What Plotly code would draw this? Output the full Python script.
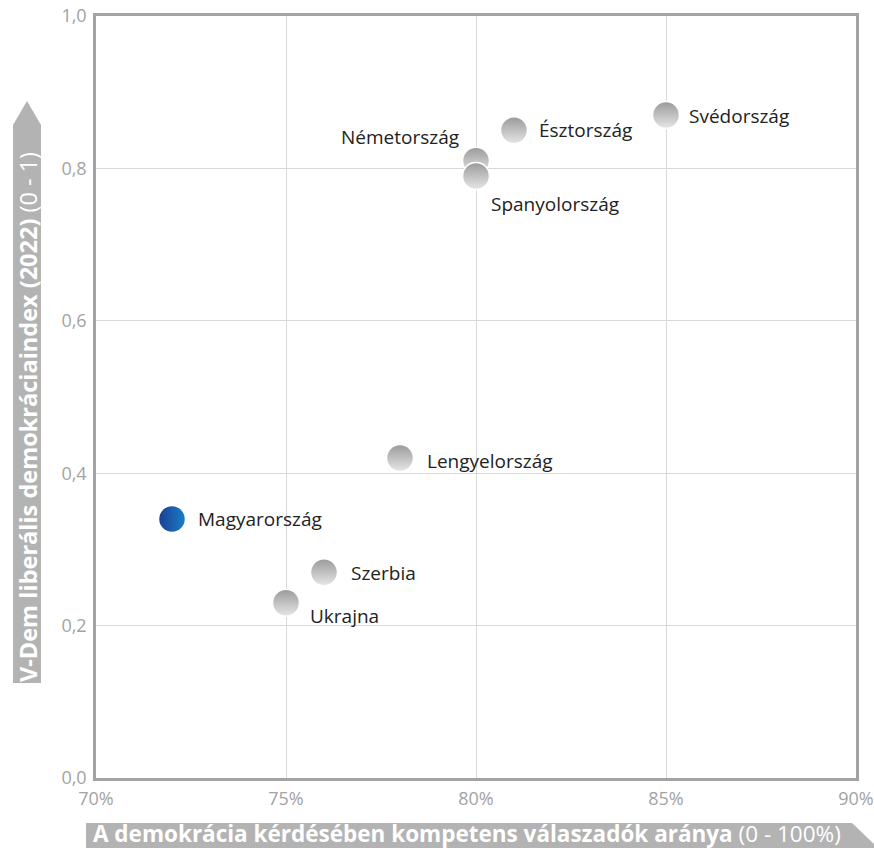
import plotly.graph_objects as go

countries = ["Magyarország", "Ukrajna", "Szerbia", "Lengyelország",
             "Németország", "Spanyolország", "Észtország", "Svédország"]
competent_pct = [72, 75, 76, 78, 80, 80, 81, 85]
vdem_index = [0.34, 0.23, 0.27, 0.42, 0.81, 0.79, 0.85, 0.87]
highlight = ["Magyarország"]

x_ticks = [70, 75, 80, 85, 90]
x_tick_labels = ["70%", "75%", "80%", "85%", "90%"]
y_ticks = [0.0, 0.2, 0.4, 0.6, 0.8, 1.0]
y_tick_labels = ["0,0", "0,2", "0,4", "0,6", "0,8", "1,0"]

x_title_bold = "A demokrácia kérdésében kompetens válaszadók aránya"
x_title_light = "(0 - 100%)"
y_title_bold = "V-Dem liberális demokráciaindex (2022)"
y_title_light = "(0 - 1)"

# label placement (pixel offsets from marker centre; style only)
label_style = {
    "Magyarország": ("left", 24, 0),
    "Ukrajna": ("left", 22, -13),
    "Szerbia": ("left", 25, -1),
    "Lengyelország": ("left", 25, -3),
    "Németország": ("right", -15, 24),
    "Spanyolország": ("left", 13, -28),
    "Észtország": ("left", 23, 0),
    "Svédország": ("left", 21, -1),
}

W, H = 874, 848
ML, MR, MT, MB = 96, 18, 16, 70
PW, PH = W - ML - MR, H - MT - MB

def px(x):  # page pixel -> paper
    return (x - ML) / PW

def py(y):
    return (H - MB - y) / PH

fig = go.Figure()

gray_idx = [i for i, c in enumerate(countries) if c not in highlight]
blue_idx = [i for i, c in enumerate(countries) if c in highlight]

fig.add_trace(go.Scatter(
    x=[competent_pct[i] for i in gray_idx],
    y=[vdem_index[i] for i in gray_idx],
    mode="markers",
    marker=dict(size=27, color="#9a9a9a",
                gradient=dict(type="vertical", color="#e6e6e6"),
                line=dict(color="white", width=1.5)),
    hoverinfo="skip", showlegend=False,
))
fig.add_trace(go.Scatter(
    x=[competent_pct[i] for i in blue_idx],
    y=[vdem_index[i] for i in blue_idx],
    mode="markers",
    marker=dict(size=27, color="#1a3f92",
                gradient=dict(type="horizontal", color="#1b7fc7"),
                line=dict(color="white", width=1.5)),
    hoverinfo="skip", showlegend=False,
))

for c, xv, yv in zip(countries, competent_pct, vdem_index):
    anchor, dx, dy = label_style[c]
    fig.add_annotation(x=xv, y=yv, xref="x", yref="y", text=c,
                       showarrow=False, xanchor=anchor, yanchor="middle",
                       xshift=dx, yshift=dy,
                       font=dict(family="Open Sans", size=19, color="#222222"))

# axis title arrows
arrow_col = "#b3b3b3"
x0, x1, xt = px(86), px(852), px(876)
yt, yb, ym = py(823), py(870), py(846)
fig.add_shape(type="path", xref="paper", yref="paper",
              path=f"M {x0} {yt} L {x1} {yt} L {xt} {ym} L {x1} {yb} L {x0} {yb} Z",
              fillcolor=arrow_col, line=dict(width=0), layer="below")
lx, rx, mx = px(13), px(41), px(27)
by, ty, tipy = py(683), py(125), py(101)
fig.add_shape(type="path", xref="paper", yref="paper",
              path=f"M {lx} {by} L {lx} {ty} L {mx} {tipy} L {rx} {ty} L {rx} {by} Z",
              fillcolor=arrow_col, line=dict(width=0), layer="below")

title_font = "Open Sans"
fig.add_annotation(xref="paper", yref="paper", x=px(91), y=py(833),
                   xanchor="left", yanchor="middle", showarrow=False,
                   text=f"<b>{x_title_bold}</b> {x_title_light}",
                   font=dict(family=title_font, size=22.5, color="white"))
fig.add_annotation(xref="paper", yref="paper", x=px(28), y=py(684),
                   xanchor="center", yanchor="bottom", textangle=-90, showarrow=False,
                   text=f"<b>{y_title_bold}</b> {y_title_light}",
                   font=dict(family=title_font, size=23.5, color="white"))

axis_common = dict(showline=True, mirror=True, linecolor="#a3a3a3", linewidth=2.5,
                   showgrid=True, gridcolor="#d9d9d9", gridwidth=1,
                   zeroline=False, ticks="", automargin=False,
                   ticklabeloverflow="allow",
                   tickfont=dict(family="Open Sans", size=18, color="#a3a3a3"))

fig.update_xaxes(range=[70, 90], tickmode="array", tickvals=x_ticks,
                 ticktext=x_tick_labels, ticklabelstandoff=3, **axis_common)
fig.update_yaxes(range=[0, 1], tickmode="array", tickvals=y_ticks,
                 ticktext=y_tick_labels, ticklabelstandoff=3, **axis_common)

fig.update_layout(width=W, height=H,
                  margin=dict(l=ML, r=MR, t=MT, b=MB, autoexpand=False),
                  plot_bgcolor="white", paper_bgcolor="white")

fig.write_html(
    "out.html",
    config={"displayModeBar": False},
    post_script="document.body.style.margin='0';document.body.style.overflow='hidden';",
)
